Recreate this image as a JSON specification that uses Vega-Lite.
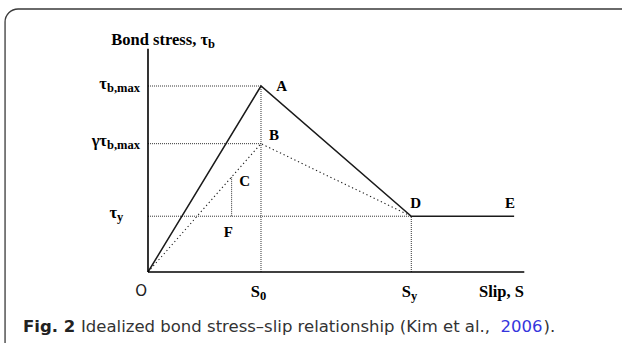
{
  "$schema": "https://vega.github.io/schema/vega-lite/v6.json",
  "width": 622,
  "height": 343,
  "autosize": {"type": "none"},
  "padding": 0,
  "background": "white",
  "config": {"view": {"stroke": null}},
  "datasets": {
    "frame": [{"x": -1.265, "y": 1.414, "x2": 4.9, "y2": -0.7}],
    "axes": [
      {"x": 0, "y": 0, "x2": 3.33, "y2": 0},
      {"x": 0, "y": 0, "x2": 0, "y2": 1.2}
    ],
    "guides": [
      {"x": 0, "y": 1, "x2": 1, "y2": 1},
      {"x": 0, "y": 0.69, "x2": 1, "y2": 0.69},
      {"x": 0, "y": 0.3, "x2": 2.33, "y2": 0.3},
      {"x": 1, "y": 0, "x2": 1, "y2": 1},
      {"x": 2.33, "y": 0, "x2": 2.33, "y2": 0.3},
      {"x": 0.74, "y": 0.3, "x2": 0.74, "y2": 0.51}
    ],
    "envelope": [
      {"pt": "O", "order": 0, "slip": 0, "stress": 0},
      {"pt": "A", "order": 1, "slip": 1, "stress": 1},
      {"pt": "D", "order": 2, "slip": 2.33, "stress": 0.3},
      {"pt": "E", "order": 3, "slip": 3.24, "stress": 0.3}
    ],
    "reduced": [
      {"pt": "O", "order": 0, "slip": 0, "stress": 0},
      {"pt": "B", "order": 1, "slip": 1, "stress": 0.69},
      {"pt": "D", "order": 2, "slip": 2.33, "stress": 0.3}
    ],
    "axisLabels": [
      {"x": 0.531, "y": 1.22, "main": "Bond stress, τ", "sub": "b"},
      {"x": -0.363, "y": 0.984, "main": "τ", "sub": "b,max"},
      {"x": -0.363, "y": 0.677, "main": "γτ", "sub": "b,max"},
      {"x": -0.274, "y": 0.29, "main": "τ", "sub": "y"},
      {"x": 0.991, "y": -0.134, "main": "S", "sub": "0"},
      {"x": 2.327, "y": -0.134, "main": "S", "sub": "y"},
      {"x": 3.327, "y": -0.134, "main": "Slip, S", "sub": ""}
    ],
    "points": [
      {"x": 1.23, "y": 0.973, "text": "A"},
      {"x": 1.159, "y": 0.71, "text": "B"},
      {"x": 0.903, "y": 0.462, "text": "C"},
      {"x": 2.416, "y": 0.344, "text": "D"},
      {"x": 3.248, "y": 0.344, "text": "E"},
      {"x": 0.752, "y": 0.188, "text": "F"}
    ],
    "origin": [{"x": -0.009, "y": -0.129, "text": "O"}],
    "caption": [
      {"x": -1.106, "y": -0.323, "text": "Fig. 2", "kind": "head"},
      {"x": -0.593, "y": -0.323, "text": "Idealized bond stress–slip relationship (Kim et al., ", "kind": "body"},
      {"x": 3.12, "y": -0.323, "text": "2006", "kind": "link"},
      {"x": 3.5, "y": -0.323, "text": ").", "kind": "body"}
    ]
  },
  "layer": [
    {
      "data": {"name": "frame"},
      "mark": {"type": "rect", "fill": null, "stroke": "#3a3a3a", "strokeWidth": 1.3, "cornerRadius": 13},
      "encoding": {
        "x": {"field": "x", "type": "quantitative", "scale": {"domain": [-1.3097, 4.1947], "nice": false, "zero": false}, "axis": null},
        "x2": {"field": "x2"},
        "y": {"field": "y", "type": "quantitative", "scale": {"domain": [-0.3817, 1.4624], "nice": false, "zero": false}, "axis": null},
        "y2": {"field": "y2"}
      }
    },
    {
      "data": {"name": "guides"},
      "mark": {"type": "rule", "color": "#333", "strokeWidth": 1, "strokeDash": [1, 1]},
      "encoding": {
        "x": {"field": "x", "type": "quantitative"},
        "x2": {"field": "x2"},
        "y": {"field": "y", "type": "quantitative"},
        "y2": {"field": "y2"}
      }
    },
    {
      "data": {"name": "reduced"},
      "mark": {"type": "line", "color": "#222", "strokeWidth": 1.1, "strokeDash": [1.3, 2.7]},
      "encoding": {
        "x": {"field": "slip", "type": "quantitative"},
        "y": {"field": "stress", "type": "quantitative"},
        "order": {"field": "order"}
      }
    },
    {
      "data": {"name": "envelope"},
      "mark": {"type": "line", "color": "#1a1a1a", "strokeWidth": 1.5},
      "encoding": {
        "x": {"field": "slip", "type": "quantitative"},
        "y": {"field": "stress", "type": "quantitative"},
        "order": {"field": "order"}
      }
    },
    {
      "data": {"name": "axes"},
      "mark": {"type": "rule", "color": "#000", "strokeWidth": 1.6},
      "encoding": {
        "x": {"field": "x", "type": "quantitative"},
        "x2": {"field": "x2"},
        "y": {"field": "y", "type": "quantitative"},
        "y2": {"field": "y2"}
      }
    },
    {
      "data": {"name": "axisLabels"},
      "mark": {"type": "text", "font": "Liberation Serif", "fontWeight": "bold", "fontSize": 16.5, "align": "right", "baseline": "alphabetic", "color": "#000"},
      "encoding": {
        "x": {"field": "x", "type": "quantitative"},
        "y": {"field": "y", "type": "quantitative"},
        "text": {"field": "main"}
      }
    },
    {
      "data": {"name": "axisLabels"},
      "mark": {"type": "text", "font": "Liberation Serif", "fontWeight": "bold", "fontSize": 12.5, "align": "left", "baseline": "alphabetic", "dy": 3, "color": "#000"},
      "encoding": {
        "x": {"field": "x", "type": "quantitative"},
        "y": {"field": "y", "type": "quantitative"},
        "text": {"field": "sub"}
      }
    },
    {
      "data": {"name": "points"},
      "mark": {"type": "text", "font": "Liberation Serif", "fontWeight": "bold", "fontSize": 15, "align": "right", "baseline": "alphabetic", "color": "#000"},
      "encoding": {
        "x": {"field": "x", "type": "quantitative"},
        "y": {"field": "y", "type": "quantitative"},
        "text": {"field": "text"}
      }
    },
    {
      "data": {"name": "origin"},
      "mark": {"type": "text", "font": "DejaVu Sans", "fontSize": 15, "align": "right", "baseline": "alphabetic", "color": "#222"},
      "encoding": {
        "x": {"field": "x", "type": "quantitative"},
        "y": {"field": "y", "type": "quantitative"},
        "text": {"field": "text"}
      }
    },
    {
      "data": {"name": "caption"},
      "transform": [{"filter": "datum.kind === 'head'"}],
      "mark": {"type": "text", "font": "DejaVu Sans", "fontWeight": "bold", "fontSize": 16.5, "align": "left", "baseline": "alphabetic", "color": "#222"},
      "encoding": {
        "x": {"field": "x", "type": "quantitative"},
        "y": {"field": "y", "type": "quantitative"},
        "text": {"field": "text"}
      }
    },
    {
      "data": {"name": "caption"},
      "transform": [{"filter": "datum.kind !== 'head'"}],
      "mark": {"type": "text", "font": "DejaVu Sans", "fontSize": 16.5, "align": "left", "baseline": "alphabetic"},
      "encoding": {
        "x": {"field": "x", "type": "quantitative"},
        "y": {"field": "y", "type": "quantitative"},
        "text": {"field": "text"},
        "color": {"field": "kind", "type": "nominal", "scale": {"domain": ["body", "link"], "range": ["#333333", "#3535dd"]}, "legend": null}
      }
    }
  ]
}
